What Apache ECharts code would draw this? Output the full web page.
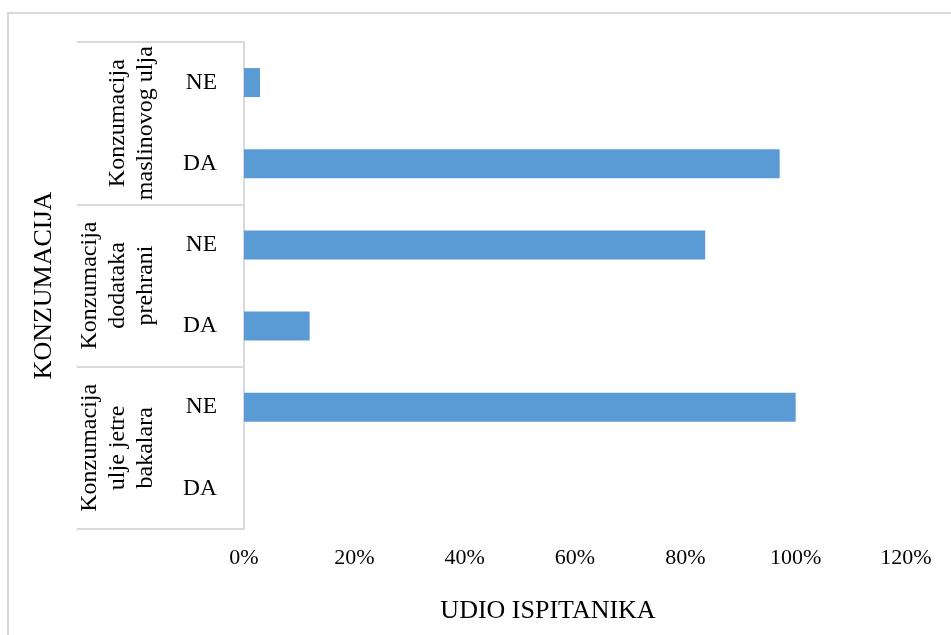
<!DOCTYPE html>
<html>
<head>
<meta charset="utf-8">
<script src="https://cdn.jsdelivr.net/npm/echarts@6/dist/echarts.min.js"></script>
<style>
    html, body { margin: 0; padding: 0; background: #fff; }
    #chart { width: 951px; height: 635px; }
</style>
</head>
<body>
<div id="chart"></div>
<script>
// categories bottom -> top
var answers = ['DA', 'NE', 'DA', 'NE', 'DA', 'NE'];
var groups = [
    'Konzumacija\nulje jetre\nbakalara',
    'Konzumacija\ndodataka\nprehrani',
    'Konzumacija\nmaslinovog ulja'
];
var shares = [0, 100, 11.9, 83.6, 97.1, 2.9];
var xTicks = [0, 20, 40, 60, 80, 100, 120];

var font = '"Liberation Serif", "Times New Roman", serif';
var lineColor = '#d9d9d9';

var myChart = echarts.init(document.getElementById('chart'));

var option = {
    backgroundColor: '#fff',
    animation: false,
    graphic: [{
        type: 'rect',
        shape: { x: 8, y: 13, width: 960, height: 640 },
        style: { fill: null, stroke: lineColor, lineWidth: 2 },
        silent: true
    }],
    grid: {
        left: 244,
        right: 45,
        top: 42,
        bottom: 106,
        containLabel: false,
        outerBoundsMode: 'none'
    },
    xAxis: {
        type: 'value',
        min: xTicks[0],
        max: xTicks[xTicks.length - 1],
        interval: 20,
        name: 'UDIO ISPITANIKA',
        nameLocation: 'middle',
        nameGap: 69,
        nameTextStyle: {
            fontFamily: font,
            fontSize: 26,
            color: '#000',
            padding: [0, 54, 0, 0]
        },
        axisLine: { show: false },
        axisTick: { show: false },
        splitLine: { show: false },
        axisLabel: {
            margin: 18,
            fontFamily: font,
            fontSize: 22,
            color: '#000',
            formatter: '{value}%'
        }
    },
    yAxis: [
        {
            type: 'category',
            data: answers,
            name: 'KONZUMACIJA',
            nameLocation: 'middle',
            nameGap: 187,
            nameRotate: 90,
            nameTextStyle: {
                fontFamily: font,
                fontSize: 26,
                color: '#000'
            },
            axisLine: { show: true, lineStyle: { color: lineColor, width: 2 } },
            axisTick: { show: false },
            axisLabel: {
                margin: 27,
                fontFamily: font,
                fontSize: 23.5,
                color: '#000'
            }
        },
        {
            type: 'category',
            data: groups,
            position: 'left',
            offset: 0,
            axisLine: { show: true, lineStyle: { color: lineColor, width: 2 } },
            axisTick: {
                show: true,
                interval: 0,
                length: 167,
                lineStyle: { color: lineColor, width: 2 }
            },
            axisLabel: {
                interval: 0,
                hideOverlap: false,
                rotate: 90,
                margin: 84,
                fontFamily: font,
                fontSize: 24,
                lineHeight: 28,
                color: '#000'
            }
        }
    ],
    series: [{
        type: 'bar',
        yAxisIndex: 0,
        data: shares,
        barWidth: 29,
        itemStyle: { color: '#5b9bd5' }
    }]
};

myChart.setOption(option);
</script>
</body>
</html>
